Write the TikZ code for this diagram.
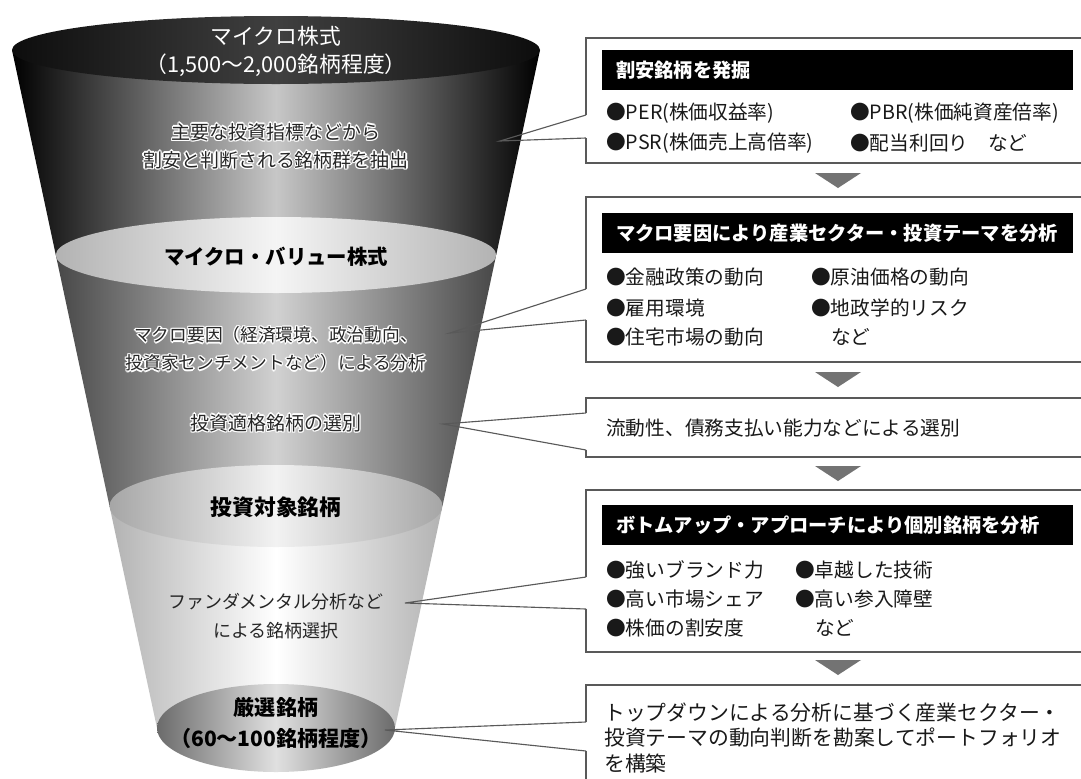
\documentclass[tikz,border=0pt]{standalone}
\usepackage{fontspec}
\setmainfont{Noto Sans CJK JP}
\usepackage{xcolor}
\usepackage{tikz}
\usetikzlibrary{positioning,fit,calc}
% dark text with a white rim
\newcommand\haloed[1]{{\setbox0\hbox{#1}%
  \rlap{\color{white}\kern-1pt\copy0}\rlap{\color{white}\kern1pt\copy0}%
  \rlap{\color{white}\raise1pt\copy0}\rlap{\color{white}\lower1pt\copy0}%
  \rlap{\color{white}\kern-.7pt\raise.7pt\copy0}\rlap{\color{white}\kern.7pt\raise.7pt\copy0}%
  \rlap{\color{white}\kern-.7pt\lower.7pt\copy0}\rlap{\color{white}\kern.7pt\lower.7pt\copy0}%
  \copy0}}
\tikzset{
  lvltxt/.style={font=\fontsize{13.5}{20}\selectfont,align=center,text=black!85},
  lvlttl/.style={font=\fontsize{15.5}{20}\selectfont\bfseries,align=center},
  callbox/.style={draw=black!65,line width=0.9pt,inner sep=0pt},
  hdrbar/.style={fill=black,inner sep=0pt},
  hdrtxt/.style={font=\fontsize{13.7}{18}\selectfont\bfseries,text=white,inner xsep=10pt,anchor=west},
  row/.style={font=\fontsize{14}{18}\selectfont,anchor=west,inner sep=0pt,text=black!90},
  lead/.style={draw=black!65,line width=0.8pt},
  tri/.style={fill=black!55},
}
\begin{document}
\begin{tikzpicture}[x=0.025cm,y=-0.025cm]
\useasboundingbox (0,0) rectangle (1081,778);
\clip (0,0) rectangle (1081,778);
\fill[white] (0,0) rectangle (1081,778);
% funnel
\shade[left color=black,right color=black,middle color=black!22] (12,50) -- (55.8,255) -- (496.2,255) -- (540,50) -- cycle;
\shade[left color=black!72,right color=black!72,middle color=black!18] (55.8,255) -- (109.5,506) -- (442.5,506) -- (496.2,255) -- cycle;
\shade[left color=black!30,right color=black!30,middle color=white] (109.5,506) -- (157,728) -- (395,728) -- (442.5,506) -- cycle;
\shade[left color=black!95,right color=black!95,middle color=black!75] (276,50) ellipse (264 and 34);
\shade[left color=black!30,right color=black!30,middle color=black!4] (276,255) ellipse (220.2 and 38);
\shade[left color=black!35,right color=black!35,middle color=black!5] (276,506) ellipse (166.5 and 41);
\shade[left color=black!58,right color=black!58,middle color=black!12] (276,728) ellipse (119 and 44);
\node[lvlttl,text=white,font=\fontsize{15.5}{20}\selectfont] (top) at (276,51) {マイクロ株式\\（1,500〜2,000銘柄程度）};
\node[lvltxt] (stepA) at (276,146) {\haloed{主要な投資指標などから}\\\haloed{割安と判断される銘柄群を抽出}};
\node[lvlttl,font=\fontsize{14.5}{20}\selectfont\bfseries] (value) at (276,257) {マイクロ・バリュー株式};
\node[lvltxt,font=\fontsize{12.6}{20}\selectfont] (stepB) at (276,349) {\haloed{マクロ要因（経済環境、政治動向、}\\\haloed{投資家センチメントなど）による分析}};
\node[lvltxt] (stepC) at (276,423) {\haloed{投資適格銘柄の選別}};
\node[lvlttl] (target) at (276,507) {投資対象銘柄};
\node[lvltxt,font=\fontsize{12.8}{21}\selectfont] (stepD) at (276,616) {ファンダメンタル分析など\\による銘柄選択};
\node[lvlttl,font=\fontsize{15}{21.5}\selectfont\bfseries] (final) at (276,723) {厳選銘柄\\（60〜100銘柄程度）};
% boxes
\node[callbox,fit={(586,38) (1100,163)}] (b1) {};
\node[callbox,fit={(586,197) (1100,362)}] (b2) {};
\node[callbox,fit={(586,398) (1100,457)}] (b3) {};
\node[callbox,fit={(586,490) (1100,652)}] (b4) {};
\node[callbox,fit={(586,685) (1100,800)}] (b5) {};
\foreach \y in {173,372,466,660} \fill[tri] (815,\y) -- (861,\y) -- (838,\y+15) -- cycle;
\foreach \n/\tx/\ty/\ua/\ub in {1/500/141/115/138,2/450/333/289/320,3/443/424/413/450,4/405/603/577/609,5/385/730/722/751} {
  \coordinate (tip\n) at (\tx,\ty);
  \coordinate (u\n) at (586,\ua);
  \coordinate (l\n) at (586,\ub);
  \draw[white,line width=2.2pt] (u\n) -- (l\n);
  \draw[lead] (u\n) -- (tip\n) -- (l\n);
}
% headers
\node[hdrbar,fit={(602,50) (1073,90)}] (h1) {};
\node[hdrtxt] (h1t) at (h1.west) {割安銘柄を発掘};
\node[hdrbar,fit={(602,213) (1073,253)}] (h2) {};
\node[hdrtxt] (h2t) at (h2.west) {マクロ要因により産業セクター・投資テーマを分析};
\node[hdrbar,fit={(602,505) (1073,545)}] (h4) {};
\node[hdrtxt] (h4t) at (h4.west) {ボトムアップ・アプローチにより個別銘柄を分析};
% rows
\node[row] (r11) at (606,113) {●PER(株価収益率)};
\node[row] (r12) at (850,113) {●PBR(株価純資産倍率)};
\node[row] (r13) at (606,143) {●PSR(株価売上高倍率)};
\node[row] (r14) at (850,143) {●配当利回り　など};
\node[row] (r21) at (606,277) {●金融政策の動向};
\node[row] (r22) at (811,277) {●原油価格の動向};
\node[row] (r23) at (606,308) {●雇用環境};
\node[row] (r24) at (811,308) {●地政学的リスク};
\node[row] (r25) at (606,337) {●住宅市場の動向};
\node[row] (r26) at (831,337) {など};
\node[row] (r31) at (606,428) {流動性、債務支払い能力などによる選別};
\node[row] (r41) at (606,570) {●強いブランド力};
\node[row] (r42) at (795,570) {●卓越した技術};
\node[row] (r43) at (606,599) {●高い市場シェア};
\node[row] (r44) at (795,599) {●高い参入障壁};
\node[row] (r45) at (606,628) {●株価の割安度};
\node[row] (r46) at (815,628) {など};
\node[row,align=left,font=\fontsize{14.8}{17.8}\selectfont] (r51) at (604,738) {トップダウンによる分析に基づく産業セクター・\\投資テーマの動向判断を勘案してポートフォリオ\\を構築};
\end{tikzpicture}
\end{document}
